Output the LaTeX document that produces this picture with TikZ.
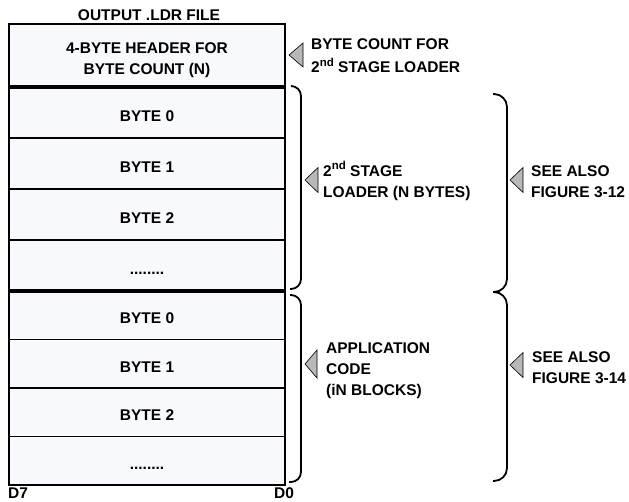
\documentclass[tikz,border=0pt]{standalone}
\usepackage{fontspec}
\setmainfont{Liberation Sans}
\definecolor{cellfill}{RGB}{248,249,253}
\definecolor{markgray}{RGB}{184,184,184}
\newcommand{\ordnd}{\raisebox{0.42em}{\fontsize{11.5}{12}\selectfont nd}}
\begin{document}
    \begin{tikzpicture}[x=1pt, y=-1pt,
        txt/.style={font=\fontsize{15.5}{21}\selectfont\bfseries, inner sep=0pt},
        cell/.style={txt, draw, line width=1.8pt, fill=cellfill, minimum width=276pt, outer sep=0pt, align=center},
        row/.style={cell, text height=17pt, text depth=0pt},
        lbl/.style={txt, anchor=west, align=left},
        pointer/.style={draw, line width=0.6pt, fill=markgray, line join=miter},
        brace/.style={draw, line width=1.8pt, rounded corners=10pt}]
        \useasboundingbox (0, 0) rectangle (629, 501);
        \node[txt] (title) at (149, 15.5) {OUTPUT .LDR FILE};
        \node[cell, minimum height=63pt] (hdr) at (147, 55.5) {};
        \node[txt, align=center] (hdrtxt) at (147, 60) {4-BYTE HEADER FOR\\BYTE COUNT (N)};
        \node[row, minimum height=51pt] (lda) at (147, 112.5) {BYTE 0};
        \node[row, minimum height=51pt] (ldb) at (147, 163.5) {BYTE 1};
        \node[row, minimum height=51pt] (ldc) at (147, 214.5) {BYTE 2};
        \node[row, minimum height=51pt] (ldd) at (147, 265.5) {........};
        \node[row, minimum height=48.5pt] (appa) at (147, 315.25) {BYTE 0};
        \node[row, minimum height=48.5pt] (appb) at (147, 363.75) {BYTE 1};
        \node[row, minimum height=48.5pt] (appc) at (147, 412.25) {BYTE 2};
        \node[row, minimum height=48.5pt] (appd) at (147, 460.75) {........};
        \draw[line width=4pt] (hdr.south west) -- (hdr.south east);
        \draw[line width=4pt] (ldd.south west) -- (ldd.south east);
        \node[txt, anchor=north west] (msb) at (8, 487.5) {D7};
        \node[txt, anchor=north] (lsb) at (284, 487.5) {D0};
        % braces
        \coordinate (ldrtop) at (291, 86);
        \coordinate (ldrbot) at (290, 289);
        \draw[brace] (ldrtop) -| ([xshift=11pt]ldrbot) -- (ldrbot);
        \coordinate (apptop) at (290, 295);
        \coordinate (appbot) at (289, 482);
        \draw[brace] (apptop) -| ([xshift=12pt]appbot) -- (appbot);
        \coordinate (seetop) at (493, 94);
        \coordinate (seemid) at (493, 292);
        \coordinate (seebot) at (493, 481);
        \draw[brace, rounded corners=13pt] (seetop) -| ([xshift=14pt]seemid) -- (seemid);
        \draw[brace, rounded corners=13pt] (seemid) -| ([xshift=14pt]seebot) -- (seebot);
        % pointers and labels
        \coordinate (cnt) at (289, 55);
        \draw[pointer] (cnt) -- ++(14, -12) -- ++(0, 24) -- cycle;
        \node[lbl] (cntlbl) at (311, 56) {BYTE COUNT FOR\\[2pt]2\ordnd\ STAGE LOADER};
        \coordinate (ldr) at (305, 180);
        \draw[pointer] (ldr) -- ++(13, -12.5) -- ++(0, 25) -- cycle;
        \node[lbl] (ldrlbl) at (323, 181) {2\ordnd\ STAGE\\LOADER (N BYTES)};
        \coordinate (seea) at (510, 180);
        \draw[pointer] (seea) -- ++(13, -12.5) -- ++(0, 25) -- cycle;
        \node[lbl] (seealbl) at (531, 182) {SEE ALSO\\FIGURE 3-12};
        \coordinate (app) at (305, 364);
        \draw[pointer] (app) -- ++(12, -14) -- ++(0, 28) -- cycle;
        \node[lbl] (applbl) at (326, 371) {APPLICATION\\CODE\\(iN BLOCKS)};
        \coordinate (seeb) at (510, 365);
        \draw[pointer] (seeb) -- ++(13, -12.5) -- ++(0, 25) -- cycle;
        \node[lbl] (seeblbl) at (532, 368) {SEE ALSO\\FIGURE 3-14};
    \end{tikzpicture}
\end{document}
